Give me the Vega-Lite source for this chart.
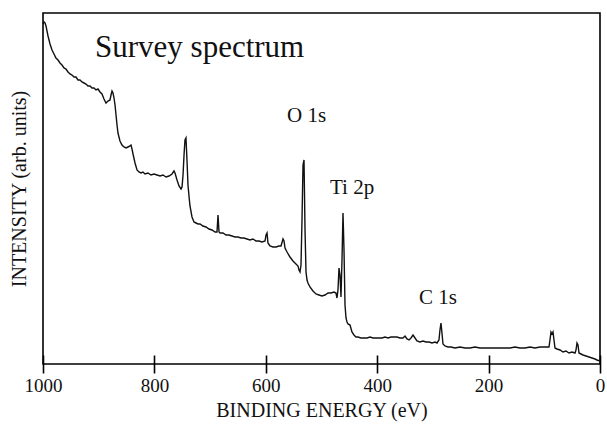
{
  "$schema": "https://vega.github.io/schema/vega-lite/v6.json",
  "width": 557,
  "height": 351,
  "autosize": {"type": "none"},
  "padding": {"left": 43, "top": 13, "right": 7, "bottom": 60},
  "view": {"stroke": "black", "strokeWidth": 1.6},
  "config": {
    "font": "Liberation Serif",
    "axis": {"grid": false, "labelFont": "Liberation Serif", "titleFont": "Liberation Serif"},
    "text": {"font": "Liberation Serif"}
  },
  "datasets": {
    "spectrum": [
      {"eV": 1000, "I": 340}, {"eV": 998.2, "I": 342}, {"eV": 996.4, "I": 341}, {"eV": 994.6, "I": 338},
      {"eV": 992.8, "I": 333}, {"eV": 991.0, "I": 328}, {"eV": 989.2, "I": 324}, {"eV": 987.4, "I": 320},
      {"eV": 983.8, "I": 314}, {"eV": 980.3, "I": 310}, {"eV": 976.7, "I": 306}, {"eV": 973.1, "I": 304},
      {"eV": 969.5, "I": 301}, {"eV": 965.9, "I": 299}, {"eV": 962.3, "I": 296}, {"eV": 958.7, "I": 295},
      {"eV": 955.1, "I": 292}, {"eV": 951.5, "I": 290}, {"eV": 947.9, "I": 289}, {"eV": 944.3, "I": 287},
      {"eV": 940.8, "I": 287}, {"eV": 937.2, "I": 284}, {"eV": 933.6, "I": 284}, {"eV": 930.0, "I": 282},
      {"eV": 926.4, "I": 281}, {"eV": 922.8, "I": 280}, {"eV": 919.2, "I": 278}, {"eV": 915.6, "I": 278},
      {"eV": 912.0, "I": 276}, {"eV": 908.4, "I": 276}, {"eV": 904.9, "I": 274}, {"eV": 901.3, "I": 275},
      {"eV": 897.7, "I": 272}, {"eV": 894.1, "I": 270}, {"eV": 890.5, "I": 265}, {"eV": 886.9, "I": 261},
      {"eV": 883.3, "I": 263}, {"eV": 879.7, "I": 264}, {"eV": 877.9, "I": 269}, {"eV": 876.1, "I": 273},
      {"eV": 874.3, "I": 271}, {"eV": 872.5, "I": 266}, {"eV": 870.7, "I": 259}, {"eV": 868.9, "I": 249},
      {"eV": 867.1, "I": 239}, {"eV": 865.4, "I": 231}, {"eV": 861.8, "I": 223}, {"eV": 858.2, "I": 219},
      {"eV": 854.6, "I": 217}, {"eV": 851.0, "I": 216}, {"eV": 847.4, "I": 217}, {"eV": 843.8, "I": 218},
      {"eV": 842.0, "I": 219}, {"eV": 840.2, "I": 215}, {"eV": 838.4, "I": 210}, {"eV": 834.8, "I": 201},
      {"eV": 831.2, "I": 194}, {"eV": 827.7, "I": 192}, {"eV": 824.1, "I": 191}, {"eV": 820.5, "I": 192},
      {"eV": 816.9, "I": 190}, {"eV": 811.5, "I": 191}, {"eV": 806.1, "I": 189}, {"eV": 800.7, "I": 190},
      {"eV": 795.3, "I": 189}, {"eV": 789.9, "I": 188}, {"eV": 784.6, "I": 189}, {"eV": 779.2, "I": 187},
      {"eV": 773.8, "I": 188}, {"eV": 768.4, "I": 190}, {"eV": 764.8, "I": 193}, {"eV": 763.0, "I": 191},
      {"eV": 759.4, "I": 184}, {"eV": 755.8, "I": 178}, {"eV": 752.2, "I": 175}, {"eV": 750.4, "I": 177},
      {"eV": 748.6, "I": 189}, {"eV": 746.8, "I": 209}, {"eV": 745.1, "I": 224}, {"eV": 743.3, "I": 226},
      {"eV": 741.5, "I": 204}, {"eV": 739.7, "I": 179}, {"eV": 737.9, "I": 168}, {"eV": 736.1, "I": 158},
      {"eV": 732.5, "I": 147}, {"eV": 728.9, "I": 142}, {"eV": 725.3, "I": 141}, {"eV": 721.7, "I": 140},
      {"eV": 718.1, "I": 140}, {"eV": 712.8, "I": 138}, {"eV": 707.4, "I": 137}, {"eV": 702.0, "I": 135},
      {"eV": 696.6, "I": 134}, {"eV": 691.2, "I": 132}, {"eV": 687.6, "I": 132}, {"eV": 685.8, "I": 149},
      {"eV": 684.0, "I": 132}, {"eV": 682.2, "I": 131}, {"eV": 676.8, "I": 131}, {"eV": 671.5, "I": 129},
      {"eV": 666.1, "I": 129}, {"eV": 660.7, "I": 128}, {"eV": 655.3, "I": 127}, {"eV": 649.9, "I": 127},
      {"eV": 644.5, "I": 126}, {"eV": 639.1, "I": 126}, {"eV": 633.8, "I": 125}, {"eV": 628.4, "I": 124},
      {"eV": 623.0, "I": 125}, {"eV": 617.6, "I": 123}, {"eV": 612.2, "I": 123}, {"eV": 606.8, "I": 122},
      {"eV": 601.4, "I": 123}, {"eV": 599.6, "I": 129}, {"eV": 597.8, "I": 131}, {"eV": 596.1, "I": 121},
      {"eV": 592.5, "I": 118}, {"eV": 587.1, "I": 117}, {"eV": 581.7, "I": 117}, {"eV": 576.3, "I": 118},
      {"eV": 572.7, "I": 118}, {"eV": 569.1, "I": 125}, {"eV": 567.3, "I": 123}, {"eV": 565.5, "I": 116},
      {"eV": 561.9, "I": 112}, {"eV": 556.6, "I": 107}, {"eV": 551.2, "I": 103}, {"eV": 545.8, "I": 100},
      {"eV": 542.2, "I": 98}, {"eV": 540.4, "I": 94}, {"eV": 538.6, "I": 92}, {"eV": 536.8, "I": 99},
      {"eV": 535.0, "I": 144}, {"eV": 533.2, "I": 199}, {"eV": 531.4, "I": 204}, {"eV": 529.6, "I": 134},
      {"eV": 527.8, "I": 92}, {"eV": 526.0, "I": 84}, {"eV": 524.3, "I": 81}, {"eV": 520.7, "I": 77},
      {"eV": 515.3, "I": 73}, {"eV": 509.9, "I": 70}, {"eV": 504.5, "I": 69}, {"eV": 499.1, "I": 68},
      {"eV": 493.7, "I": 69}, {"eV": 488.3, "I": 71}, {"eV": 483.0, "I": 71}, {"eV": 477.6, "I": 72},
      {"eV": 474.0, "I": 71}, {"eV": 472.2, "I": 66}, {"eV": 470.4, "I": 74}, {"eV": 468.6, "I": 96},
      {"eV": 466.8, "I": 89}, {"eV": 465.0, "I": 67}, {"eV": 463.2, "I": 104}, {"eV": 461.4, "I": 151},
      {"eV": 459.6, "I": 114}, {"eV": 457.8, "I": 59}, {"eV": 456.0, "I": 46}, {"eV": 454.2, "I": 42},
      {"eV": 452.4, "I": 40}, {"eV": 448.8, "I": 39}, {"eV": 445.3, "I": 32}, {"eV": 441.7, "I": 29},
      {"eV": 438.1, "I": 27}, {"eV": 434.5, "I": 27}, {"eV": 429.1, "I": 26}, {"eV": 423.7, "I": 26},
      {"eV": 418.3, "I": 26}, {"eV": 412.9, "I": 27}, {"eV": 407.5, "I": 26}, {"eV": 402.2, "I": 26},
      {"eV": 396.8, "I": 26}, {"eV": 391.4, "I": 26}, {"eV": 386.0, "I": 27}, {"eV": 380.6, "I": 26},
      {"eV": 375.2, "I": 27}, {"eV": 369.8, "I": 27}, {"eV": 364.5, "I": 27}, {"eV": 359.1, "I": 26},
      {"eV": 353.7, "I": 26}, {"eV": 350.1, "I": 28}, {"eV": 346.5, "I": 25}, {"eV": 342.9, "I": 24},
      {"eV": 339.3, "I": 26}, {"eV": 335.7, "I": 29}, {"eV": 332.1, "I": 26}, {"eV": 328.6, "I": 23},
      {"eV": 323.2, "I": 22}, {"eV": 317.8, "I": 23}, {"eV": 312.4, "I": 22}, {"eV": 307.0, "I": 22},
      {"eV": 301.6, "I": 21}, {"eV": 296.2, "I": 22}, {"eV": 292.6, "I": 21}, {"eV": 289.1, "I": 24},
      {"eV": 287.3, "I": 34}, {"eV": 285.5, "I": 41}, {"eV": 283.7, "I": 31}, {"eV": 281.9, "I": 20},
      {"eV": 278.3, "I": 18}, {"eV": 272.9, "I": 17}, {"eV": 267.5, "I": 17}, {"eV": 260.3, "I": 16},
      {"eV": 251.4, "I": 17}, {"eV": 242.4, "I": 16}, {"eV": 233.4, "I": 16}, {"eV": 224.4, "I": 17},
      {"eV": 215.4, "I": 16}, {"eV": 206.5, "I": 16}, {"eV": 197.5, "I": 16}, {"eV": 188.5, "I": 16},
      {"eV": 179.5, "I": 16}, {"eV": 170.6, "I": 16}, {"eV": 161.6, "I": 16}, {"eV": 152.6, "I": 17},
      {"eV": 143.6, "I": 16}, {"eV": 134.6, "I": 16}, {"eV": 125.7, "I": 17}, {"eV": 116.7, "I": 16},
      {"eV": 107.7, "I": 17}, {"eV": 98.7, "I": 17}, {"eV": 91.6, "I": 17}, {"eV": 89.8, "I": 24},
      {"eV": 88.0, "I": 32}, {"eV": 86.2, "I": 30}, {"eV": 84.4, "I": 32}, {"eV": 82.6, "I": 24},
      {"eV": 80.8, "I": 16}, {"eV": 77.2, "I": 15}, {"eV": 71.8, "I": 14}, {"eV": 66.4, "I": 12},
      {"eV": 61.1, "I": 13}, {"eV": 55.7, "I": 11}, {"eV": 50.3, "I": 12}, {"eV": 44.9, "I": 11},
      {"eV": 43.1, "I": 14}, {"eV": 41.3, "I": 21}, {"eV": 39.5, "I": 19}, {"eV": 37.7, "I": 11},
      {"eV": 34.1, "I": 10}, {"eV": 30.5, "I": 9}, {"eV": 25.1, "I": 8}, {"eV": 19.7, "I": 7},
      {"eV": 14.4, "I": 6}, {"eV": 9.0, "I": 5}, {"eV": 5.4, "I": 4}, {"eV": 0, "I": 3}
    ],
    "labels": [
      {"eV": 906.6, "I": 307, "label": "Survey spectrum", "size": "big"},
      {"eV": 561.9, "I": 242, "label": "O 1s", "size": "small"},
      {"eV": 484.8, "I": 170, "label": "Ti 2p", "size": "small"},
      {"eV": 324.9, "I": 60, "label": "C 1s", "size": "small"}
    ]
  },
  "layer": [
    {
      "data": {"name": "spectrum"},
      "mark": {"type": "line", "color": "#111", "strokeWidth": 1.4, "interpolate": "linear"},
      "encoding": {
        "x": {
          "field": "eV", "type": "quantitative",
          "scale": {"domain": [0, 1000], "reverse": true, "nice": false},
          "axis": {
            "title": "BINDING ENERGY (eV)",
            "values": [0, 200, 400, 600, 800, 1000],
            "format": "d",
            "offset": -9,
            "domain": false,
            "tickSize": 18,
            "tickWidth": 1.6,
            "tickColor": "black",
            "labelFontSize": 19,
            "labelColor": "#111",
            "labelPadding": 3,
            "labelFlush": false,
            "titleFontSize": 20,
            "titleFontWeight": "normal",
            "titleColor": "#111",
            "titlePadding": 5
          }
        },
        "y": {
          "field": "I", "type": "quantitative",
          "scale": {"domain": [0, 351], "nice": false, "zero": false},
          "axis": {
            "title": "INTENSITY (arb. units)",
            "ticks": false,
            "labels": false,
            "domain": false,
            "titleFontSize": 20,
            "titleFontWeight": "normal",
            "titleColor": "#111",
            "titlePadding": 14
          }
        }
      }
    },
    {
      "data": {"name": "labels"},
      "mark": {"type": "text", "align": "left", "baseline": "alphabetic", "color": "#111"},
      "encoding": {
        "x": {"field": "eV", "type": "quantitative"},
        "y": {"field": "I", "type": "quantitative"},
        "text": {"field": "label"},
        "size": {
          "field": "size", "type": "nominal",
          "scale": {"domain": ["big", "small"], "range": [31, 21]},
          "legend": null
        }
      }
    }
  ]
}
